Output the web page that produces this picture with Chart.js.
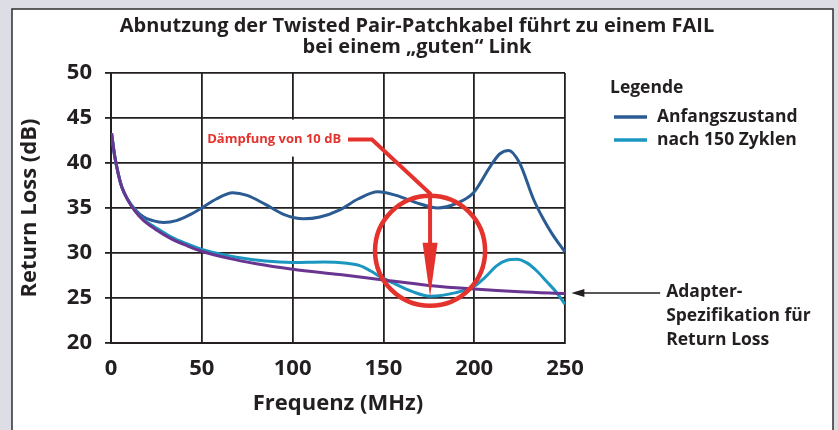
<!DOCTYPE html>
<html lang="de">
<head>
<meta charset="utf-8">
<title>Return Loss</title>
<script src="https://cdn.jsdelivr.net/npm/chart.js@4"></script>
<style>
  html, body { margin: 0; padding: 0; background: #dcdde5; }
  #wrap { width: 838px; height: 430px; }
</style>
</head>
<body>
<div id="wrap"><canvas id="chart" width="838" height="430"></canvas></div>
<script>
// values
const xTicks = [0, 50, 100, 150, 200, 250];
const yTicks = [20, 25, 30, 35, 40, 45, 50];

const freqInitial = [0.3, 2, 4, 6, 9, 13, 18, 23, 29, 36, 43, 50, 58, 67, 75, 85, 95, 106, 115, 126, 136, 147, 157, 168, 180, 190, 199.6, 208.8, 214, 219, 225, 232.6, 238, 243, 250];
const lossInitial = [43.3, 40.8, 38.8, 37.3, 36.0, 34.9, 34.0, 33.6, 33.4, 33.6, 34.2, 35.0, 36.0, 36.7, 36.4, 35.4, 34.3, 33.8, 34.0, 34.8, 36.0, 36.8, 36.4, 35.6, 35.0, 35.5, 36.7, 39.6, 41.0, 41.4, 40.0, 36.0, 33.8, 32.1, 30.1];

const freqAged = [0.3, 2, 4, 6, 9, 13, 18, 24, 33, 42, 50, 60, 70, 85, 100, 117, 130, 137, 143, 148, 155, 166, 175.7, 190, 200, 206, 212.5, 218, 223.5, 229, 234.5, 240, 245, 250];
const lossAged = [43.3, 40.8, 38.8, 37.3, 36.0, 34.8, 33.7, 32.9, 31.8, 31.0, 30.4, 29.9, 29.5, 29.1, 28.95, 29.0, 28.85, 28.6, 28.0, 27.4, 26.7, 25.7, 25.2, 25.6, 26.3, 27.3, 28.6, 29.2, 29.3, 28.9, 28.0, 26.8, 25.7, 24.3];

const freqSpec = [0.3, 2, 4, 6, 9, 13, 18, 24, 33, 42, 50, 65, 80, 100, 126, 150, 175, 200, 225, 250];
const lossSpec = [43.3, 40.8, 38.8, 37.3, 36.0, 34.7, 33.6, 32.7, 31.6, 30.8, 30.2, 29.4, 28.8, 28.2, 27.6, 27.0, 26.4, 26.0, 25.7, 25.5];

const seriesNames = ['Anfangszustand', 'nach 150 Zyklen'];

// annotation anchors in data units (MHz, dB)
const dampingLabel = [53, 42.6];
const dampingPath = [[130.5, 42.6], [143.7, 42.6], [175.7, 36.6], [175.7, 25.15]];
const circleCenter = [175.7, 30.25];
const circleRadiusMHz = 30.3;
const adapterArrow = [[302.4, 25.55], [253.5, 25.55]];

const INK = '#231f20';
const RED = '#e4322d';
const BLUE = '#2a5b92';
const TEAL = '#1a96c0';
const PURPLE = '#6a3590';
const FONT = '"Open Sans", "Noto Sans", sans-serif';

const toPoints = (xs, ys) => xs.map((x, i) => ({ x: x, y: ys[i] }));

const decorPlugin = {
    id: 'decor',
    beforeDraw(chart) {
        const ctx = chart.ctx;
        ctx.save();
        ctx.fillStyle = '#dcdde5';
        ctx.fillRect(0, 0, chart.width, chart.height);
        ctx.fillStyle = '#ffffff';
        ctx.fillRect(12, 9, 821, 440);
        ctx.strokeStyle = '#2e2e2e';
        ctx.lineWidth = 1.5;
        ctx.strokeRect(12, 9, 821, 440);
        ctx.restore();
    },
    afterDraw(chart) {
        const ctx = chart.ctx;
        const xs = chart.scales.x;
        const ys = chart.scales.y;
        const px = v => xs.getPixelForValue(v);
        const py = v => ys.getPixelForValue(v);

        ctx.save();

        // title
        ctx.fillStyle = INK;
        ctx.textAlign = 'center';
        ctx.textBaseline = 'middle';
        ctx.font = 'bold 20px ' + FONT;
        ctx.fillText('Abnutzung der Twisted Pair-Patchkabel führt zu einem FAIL', 417, 26);
        ctx.fillText('bei einem \u201Eguten\u201C Link', 417, 47);

        // legend
        ctx.textAlign = 'left';
        ctx.font = 'bold 17.5px ' + FONT;
        ctx.fillText('Legende', 610, 88);
        [BLUE, TEAL].forEach((c, i) => {
            const y = 117 + i * 23;
            ctx.strokeStyle = c;
            ctx.lineWidth = 3.5;
            ctx.beginPath();
            ctx.moveTo(614, y);
            ctx.lineTo(647, y);
            ctx.stroke();
            ctx.fillText(seriesNames[i], 657, y);
        });

        // label for the damping, on a white box that hides the grid
        const lx = px(dampingLabel[0]);
        const ly = py(dampingLabel[1]);
        ctx.font = 'bold 13px ' + FONT;
        const lw = ctx.measureText('Dämpfung von 10 dB').width;
        ctx.fillStyle = '#ffffff';
        ctx.fillRect(lx - 4, ly - 20, lw + 12, 37);
        ctx.fillStyle = RED;
        ctx.fillText('Dämpfung von 10 dB', lx, ly);

        // red circle
        const cx = px(circleCenter[0]);
        const cy = py(circleCenter[1]);
        const r = px(circleCenter[0] + circleRadiusMHz) - cx;
        ctx.strokeStyle = RED;
        ctx.lineWidth = 4.5;
        ctx.beginPath();
        ctx.arc(cx, cy, r, 0, Math.PI * 2);
        ctx.stroke();

        // red arrow
        const pts = dampingPath.map(p => [px(p[0]), py(p[1])]);
        const tip = pts[pts.length - 1];
        ctx.lineWidth = 4;
        ctx.beginPath();
        ctx.moveTo(pts[0][0], pts[0][1]);
        for (let i = 1; i < pts.length - 1; i++) ctx.lineTo(pts[i][0], pts[i][1]);
        ctx.lineTo(tip[0], tip[1] - 40);
        ctx.stroke();
        ctx.beginPath();
        ctx.moveTo(tip[0], tip[1]);
        ctx.lineTo(tip[0] - 7.5, tip[1] - 54);
        ctx.lineTo(tip[0] + 7.5, tip[1] - 54);
        ctx.closePath();
        ctx.fill();

        // black arrow to adapter spec
        const a0 = [px(adapterArrow[0][0]), py(adapterArrow[0][1])];
        const a1 = [px(adapterArrow[1][0]), py(adapterArrow[1][1])];
        ctx.strokeStyle = INK;
        ctx.fillStyle = INK;
        ctx.lineWidth = 1.5;
        ctx.beginPath();
        ctx.moveTo(a0[0], a0[1]);
        ctx.lineTo(a1[0] + 10, a1[1]);
        ctx.stroke();
        ctx.beginPath();
        ctx.moveTo(a1[0], a1[1]);
        ctx.lineTo(a1[0] + 13, a1[1] - 4);
        ctx.lineTo(a1[0] + 13, a1[1] + 4);
        ctx.closePath();
        ctx.fill();

        ctx.font = 'bold 17.5px ' + FONT;
        ['Adapter-', 'Spezifikation für', 'Return Loss'].forEach((t, i) => {
            ctx.fillText(t, a0[0] + 6, a0[1] - 1 + i * 24);
        });

        ctx.restore();
    }
};

new Chart(document.getElementById('chart'), {
    type: 'line',
    data: {
        datasets: [
            {
                label: 'Adapter-Spezifikation',
                data: toPoints(freqSpec, lossSpec),
                borderColor: PURPLE,
                order: 0
            },
            {
                label: seriesNames[1],
                data: toPoints(freqAged, lossAged),
                borderColor: TEAL,
                order: 1
            },
            {
                label: seriesNames[0],
                data: toPoints(freqInitial, lossInitial),
                borderColor: BLUE,
                order: 2
            }
        ]
    },
    options: {
        responsive: false,
        animation: false,
        events: [],
        elements: {
            line: { borderWidth: 3, cubicInterpolationMode: 'monotone', fill: false },
            point: { radius: 0 }
        },
        layout: { padding: { top: 73, right: 273, bottom: 0, left: 0 } },
        plugins: {
            legend: { display: false },
            title: { display: false },
            tooltip: { enabled: false }
        },
        scales: {
            x: {
                type: 'linear',
                min: 0,
                max: 250,
                afterBuildTicks: s => { s.ticks = xTicks.map(v => ({ value: v })); },
                afterFit: s => { s.height = 87; },
                grid: { color: INK, lineWidth: 1.8, drawTicks: false },
                border: { color: INK, width: 2 },
                ticks: {
                    color: INK,
                    padding: 13,
                    maxRotation: 0,
                    font: { family: FONT, size: 22, weight: 'bold' }
                },
                title: {
                    display: true,
                    text: 'Frequenz (MHz)',
                    color: INK,
                    padding: { top: 0, bottom: 13 },
                    font: { family: FONT, size: 22, weight: 'bold' }
                }
            },
            y: {
                min: 20,
                max: 50,
                afterBuildTicks: s => { s.ticks = yTicks.map(v => ({ value: v })); },
                afterFit: s => { s.width = 111; },
                grid: { color: INK, lineWidth: 1.8, tickLength: 6 },
                border: { color: INK, width: 2 },
                ticks: {
                    color: INK,
                    padding: 13,
                    font: { family: FONT, size: 22, weight: 'bold' }
                },
                title: {
                    display: true,
                    text: 'Return Loss (dB)',
                    color: INK,
                    padding: { top: 17, bottom: 0 },
                    font: { family: FONT, size: 22, weight: 'bold' }
                }
            }
        }
    },
    plugins: [decorPlugin]
});
</script>
</body>
</html>
